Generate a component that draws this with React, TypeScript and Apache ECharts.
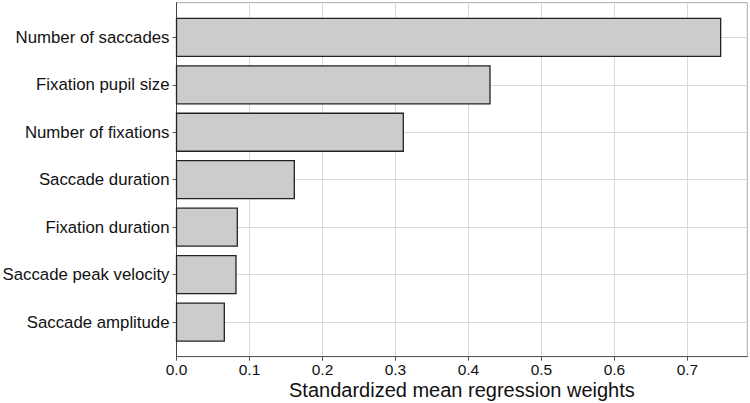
import React, { useEffect, useRef } from "react";
import * as echarts from "echarts";

const categories = [
  "Number of saccades",
  "Fixation pupil size",
  "Number of fixations",
  "Saccade duration",
  "Fixation duration",
  "Saccade peak velocity",
  "Saccade amplitude",
];
const weights = [0.7455, 0.4295, 0.3107, 0.1614, 0.0833, 0.0815, 0.0655];
const xTicks = [0, 0.1, 0.2, 0.3, 0.4, 0.5, 0.6, 0.7];
const xTitle = "Standardized mean regression weights";

export default function App() {
  const ref = useRef<HTMLDivElement>(null);
  useEffect(() => {
    if (!ref.current) return;
    const chart = echarts.init(ref.current, null, { renderer: "svg" });
    const idx = categories.map((_, i) => i);
    const font = "'Liberation Sans', Arial, Helvetica, sans-serif";
    chart.setOption({
      animation: false,
      backgroundColor: "#ffffff",
      grid: {
        left: 176.5,
        right: 2.7,
        top: 2.7,
        bottom: 46.3,
        containLabel: false,
        outerBoundsMode: "none",
        show: true,
        borderColor: "#aaaaaa",
        borderWidth: 1,
        backgroundColor: "transparent",
      },
      xAxis: {
        type: "value",
        min: 0,
        max: 0.782,
        name: xTitle,
        nameLocation: "middle",
        nameGap: 23.5,
        nameMoveOverlap: false,
        nameTextStyle: { fontFamily: font, fontSize: 20, lineHeight: 19, color: "#111111" },
        axisLine: { show: true, onZero: false, lineStyle: { color: "#555555", width: 1 } },
        axisTick: { show: true, length: 4, customValues: xTicks, lineStyle: { color: "#555555" } },
        axisLabel: {
          customValues: xTicks,
          margin: 5.5,
          fontFamily: font,
          fontSize: 15.5,
          lineHeight: 15,
          color: "#111111",
          formatter: (v: number) => v.toFixed(1),
        },
        splitLine: { show: true, lineStyle: { color: "#d9d9d9", width: 1 } },
      },
      yAxis: {
        type: "value",
        inverse: true,
        min: -0.73,
        max: 6.73,
        minInterval: 1,
        maxInterval: 1,
        axisLine: { show: true, onZero: false, lineStyle: { color: "#444444", width: 1 } },
        axisTick: { show: true, length: 4, customValues: idx, lineStyle: { color: "#555555" } },
        axisLabel: {
          customValues: idx,
          margin: 7,
          fontFamily: font,
          fontSize: 16.8,
          color: "#111111",
          formatter: (v: number) => {
            const r = Math.round(v);
            return Math.abs(r - v) < 1e-6 && categories[r] ? categories[r] : "";
          },
        },
        splitLine: { show: true, lineStyle: { color: "#d9d9d9", width: 1 } },
      },
      series: [
        {
          type: "custom",
          encode: { x: 0, y: 1 },
          data: weights.map((w, i) => [w, i]),
          renderItem: (params: any, api: any) => {
            const v = api.value(0);
            const i = api.value(1);
            const s = api.coord([0, i]);
            const e = api.coord([v, i]);
            const h = api.size([0, 0.8])[1];
            return {
              type: "rect",
              shape: { x: s[0], y: s[1] - h / 2, width: e[0] - s[0], height: h },
              style: { fill: "#cccccc", stroke: "#222222", lineWidth: 1.3 },
            };
          },
        },
      ],
    });
    return () => chart.dispose();
  }, []);
  return (
    <div
      ref={ref}
      style={{ position: "fixed", left: 0, top: 0, width: 750, height: 403, background: "#fff" }}
    />
  );
}
